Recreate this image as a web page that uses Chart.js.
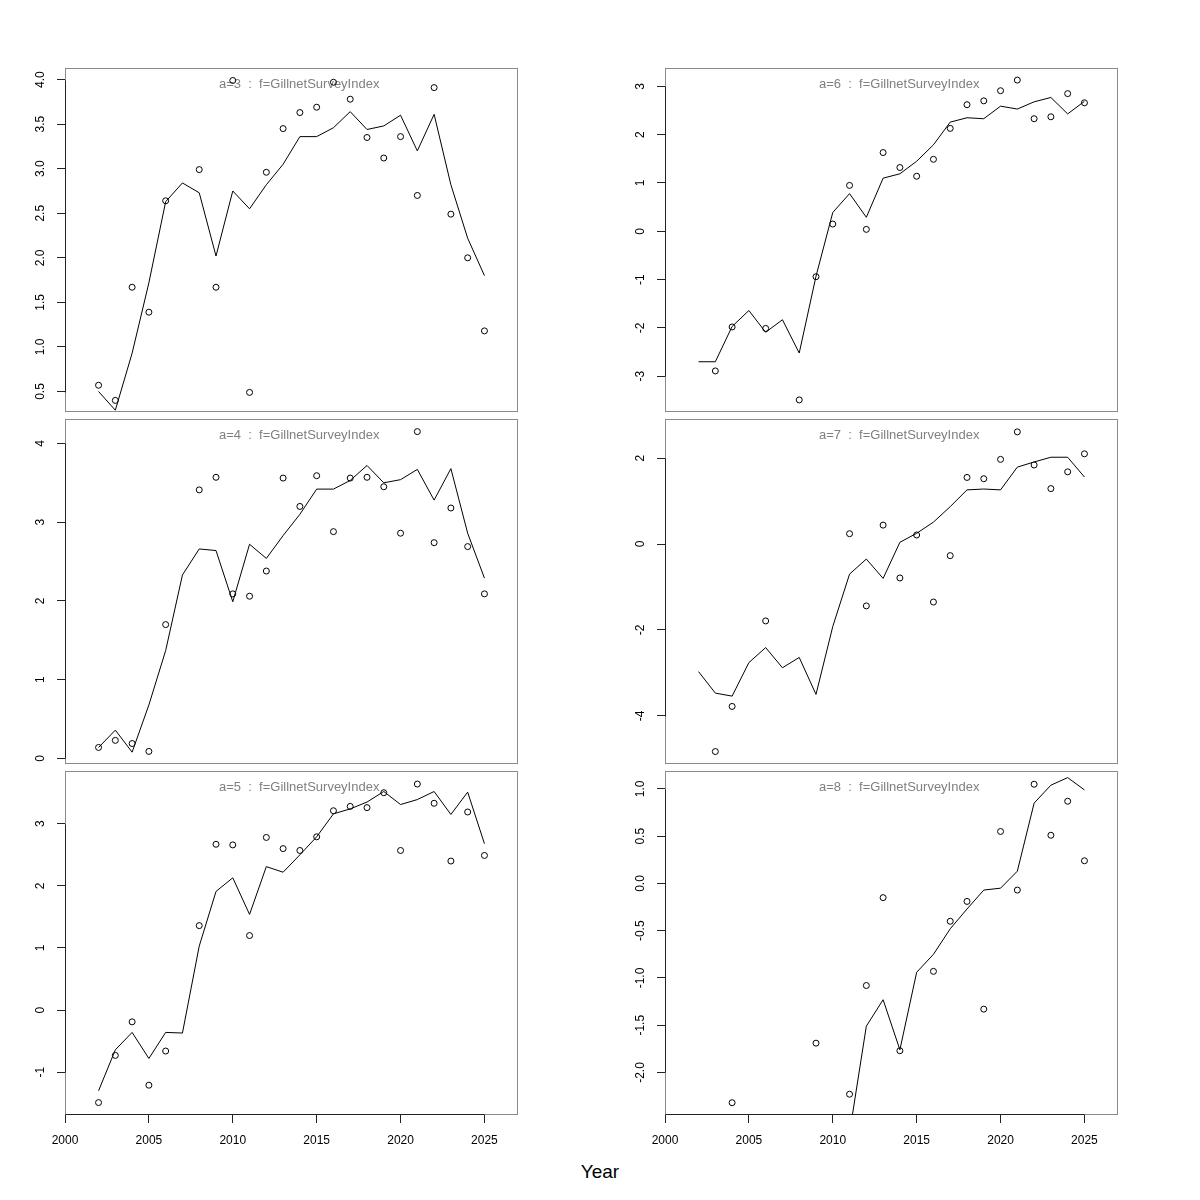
<!DOCTYPE html>
<html>
<head>
<meta charset="utf-8">
<script src="https://cdn.jsdelivr.net/npm/chart.js@4"></script>
<style>
  body { margin: 0; background: #fff; width: 1200px; height: 1200px; position: relative; overflow: hidden; font-family: "Liberation Sans", Arial, sans-serif; }
  canvas { position: absolute; }
  #xlab { position: absolute; left: 0; width: 1200px; top: 1161px; text-align: center; font-size: 19px; color: #000; }
</style>
</head>
<body>
<div id="xlab">Year</div>
<script>
const years = [2002, 2003, 2004, 2005, 2006, 2007, 2008, 2009, 2010, 2011, 2012, 2013,
               2014, 2015, 2016, 2017, 2018, 2019, 2020, 2021, 2022, 2023, 2024, 2025];
const yearTicks = [2000, 2005, 2010, 2015, 2020, 2025];

// observed index (circles) and fitted (line), by age
const obsA3 = [0.57, 0.40, 1.67, 1.39, 2.64, null, 2.99, 1.67, 3.99, 0.49, 2.96, 3.45, 3.63, 3.69, 3.97, 3.78, 3.35, 3.12, 3.36, 2.70, 3.91, 2.49, 2.00, 1.18];
const fitA3 = [0.50, 0.29, 0.93, 1.72, 2.63, 2.84, 2.73, 2.02, 2.75, 2.55, 2.82, 3.05, 3.36, 3.36, 3.46, 3.64, 3.44, 3.48, 3.60, 3.20, 3.61, 2.82, 2.22, 1.80];
const ticksA3 = [0.5, 1.0, 1.5, 2.0, 2.5, 3.0, 3.5, 4.0];

const obsA6 = [null, -2.89, -1.98, null, -2.01, null, -3.49, -0.94, 0.15, 0.95, 0.04, 1.63, 1.32, 1.14, 1.49, 2.13, 2.62, 2.70, 2.91, 3.13, 2.33, 2.37, 2.85, 2.66];
const fitA6 = [-2.70, -2.70, -1.97, -1.64, -2.09, -1.83, -2.52, -0.93, 0.39, 0.78, 0.29, 1.10, 1.19, 1.45, 1.79, 2.26, 2.35, 2.33, 2.59, 2.53, 2.68, 2.77, 2.43, 2.69];
const ticksA6 = [-3, -2, -1, 0, 1, 2, 3];

const obsA4 = [0.14, 0.23, 0.19, 0.09, 1.70, null, 3.41, 3.57, 2.09, 2.06, 2.38, 3.56, 3.20, 3.59, 2.88, 3.56, 3.57, 3.45, 2.86, 4.15, 2.74, 3.18, 2.69, 2.09];
const fitA4 = [0.14, 0.36, 0.08, 0.68, 1.37, 2.33, 2.66, 2.64, 1.99, 2.72, 2.54, 2.83, 3.10, 3.42, 3.42, 3.53, 3.72, 3.50, 3.54, 3.67, 3.28, 3.68, 2.86, 2.29];
const ticksA4 = [0, 1, 2, 3, 4];

const obsA7 = [null, -4.83, -3.78, null, -1.79, null, null, null, null, 0.24, -1.44, 0.44, -0.79, 0.21, -1.35, -0.27, 1.55, 1.52, 1.97, 2.61, 1.84, 1.29, 1.68, 2.10];
const fitA7 = [-2.97, -3.47, -3.54, -2.76, -2.41, -2.88, -2.64, -3.50, -1.92, -0.70, -0.35, -0.80, 0.04, 0.25, 0.51, 0.87, 1.26, 1.28, 1.26, 1.79, 1.91, 2.02, 2.02, 1.56];
const ticksA7 = [-4, -2, 0, 2];

const obsA5 = [-1.49, -0.73, -0.19, -1.21, -0.66, null, 1.36, 2.67, 2.66, 1.20, 2.78, 2.60, 2.57, 2.79, 3.21, 3.28, 3.26, 3.50, 2.57, 3.64, 3.33, 2.40, 3.19, 2.49];
const fitA5 = [-1.30, -0.64, -0.36, -0.78, -0.36, -0.37, 1.03, 1.91, 2.13, 1.54, 2.31, 2.22, 2.50, 2.79, 3.16, 3.24, 3.35, 3.52, 3.31, 3.39, 3.52, 3.15, 3.51, 2.68];
const ticksA5 = [-1, 0, 1, 2, 3];

const obsA8 = [null, null, -2.32, null, null, null, null, -1.69, null, -2.23, -1.08, -0.15, -1.77, null, -0.93, -0.40, -0.19, -1.33, 0.55, -0.07, 1.05, 0.51, 0.87, 0.24];
const fitA8 = [null, null, null, null, null, null, null, null, null, -2.64, -1.51, -1.23, -1.76, -0.94, -0.75, -0.48, -0.27, -0.07, -0.05, 0.13, 0.85, 1.04, 1.12, 0.99];
const ticksA8 = [-2.0, -1.5, -1.0, -0.5, 0.0, 0.5, 1.0];

const FONT = '"Liberation Sans", Arial, sans-serif';
const TICK_SIZE = 12;
const PAD = 30; // canvas margin around the box

// box edges of the three rows
const rowTop = [68, 419, 771];
const rowBottom = [412, 764, 1115];

const panels = [
  { title: 'a=3', obs: obsA3, fit: fitA3, ticks: ticksA3, dec: 1, min: 0.27, max: 4.13, col: 0, row: 0 },
  { title: 'a=6', obs: obsA6, fit: fitA6, ticks: ticksA6, dec: 0, min: -3.74, max: 3.38, col: 1, row: 0 },
  { title: 'a=4', obs: obsA4, fit: fitA4, ticks: ticksA4, dec: 0, min: -0.07, max: 4.31, col: 0, row: 1 },
  { title: 'a=7', obs: obsA7, fit: fitA7, ticks: ticksA7, dec: 0, min: -5.12, max: 2.91, col: 1, row: 1 },
  { title: 'a=5', obs: obsA5, fit: fitA5, ticks: ticksA5, dec: 0, min: -1.69, max: 3.85, col: 0, row: 2 },
  { title: 'a=8', obs: obsA8, fit: fitA8, ticks: ticksA8, dec: 1, min: -2.45, max: 1.19, col: 1, row: 2 }
];

const measure = document.createElement('canvas').getContext('2d');
measure.font = TICK_SIZE + 'px ' + FONT;

function toPoints(vals) {
  const out = [];
  vals.forEach((v, i) => { if (v !== null) out.push({ x: years[i], y: v }); });
  return out;
}

// grey box, dark axis lines between first and last tick, grey panel title
const framePlugin = {
  id: 'frame',
  beforeDatasetsDraw(chart, args, opts) {
    const { ctx, chartArea: a, scales: { x, y } } = chart;
    ctx.save();
    ctx.lineWidth = 1;
    ctx.strokeStyle = '#8a8a8a';
    ctx.strokeRect(a.left + 0.5, a.top + 0.5, a.right - a.left - 1, a.bottom - a.top - 1);
    ctx.strokeStyle = '#222';
    const t = opts.ticks;
    ctx.beginPath();
    ctx.moveTo(a.left + 0.5, Math.round(y.getPixelForValue(t[0])) + 0.5);
    ctx.lineTo(a.left + 0.5, Math.round(y.getPixelForValue(t[t.length - 1])) + 0.5);
    if (opts.showX) {
      ctx.moveTo(Math.round(x.getPixelForValue(yearTicks[0])) + 0.5, a.bottom - 0.5);
      ctx.lineTo(Math.round(x.getPixelForValue(yearTicks[yearTicks.length - 1])) + 0.5, a.bottom - 0.5);
    }
    ctx.stroke();
    ctx.fillStyle = '#808080';
    ctx.font = '13px ' + FONT;
    ctx.textAlign = 'left';
    ctx.textBaseline = 'middle';
    ctx.fillText(opts.title + '  :  f=GillnetSurveyIndex', a.left + 154, a.top + 16);
    ctx.restore();
  }
};

panels.forEach(p => {
  const showX = p.row === 2;
  const top = rowTop[p.row] - PAD;
  const height = rowBottom[p.row] - rowTop[p.row] + PAD + (showX ? 45 : PAD);
  const cv = document.createElement('canvas');
  cv.width = 600;
  cv.height = height;
  cv.style.left = (p.col * 600) + 'px';
  cv.style.top = top + 'px';
  document.body.appendChild(cv);

  const fmt = v => Number(v).toFixed(p.dec);
  const widest = Math.max(...p.ticks.map(v => measure.measureText(fmt(v)).width));

  new Chart(cv, {
    type: 'scatter',
    data: {
      datasets: [{
        data: toPoints(p.obs),
        showLine: false,
        pointStyle: 'circle',
        pointRadius: 3,
        pointBorderWidth: 1,
        pointBorderColor: '#000',
        pointBackgroundColor: 'rgba(0,0,0,0)'
      }, {
        data: toPoints(p.fit),
        showLine: true,
        borderColor: '#000',
        borderWidth: 1,
        pointRadius: 0,
        tension: 0
      }]
    },
    options: {
      responsive: false,
      animation: false,
      layout: { padding: { left: 0, right: 82, top: PAD, bottom: showX ? 0 : PAD } },
      scales: {
        x: {
          type: 'linear',
          min: 2000,
          max: 2027,
          display: showX,
          afterBuildTicks: s => { s.ticks = yearTicks.map(v => ({ value: v })); },
          afterFit: s => { if (showX) s.height = 45; },
          border: { display: false },
          grid: { drawOnChartArea: false, drawTicks: true, tickLength: 8, tickColor: '#222' },
          ticks: {
            padding: 10,
            maxRotation: 0,
            autoSkip: false,
            color: '#000',
            font: { family: FONT, size: TICK_SIZE },
            callback: v => String(v)
          }
        },
        y: {
          type: 'linear',
          min: p.min,
          max: p.max,
          afterBuildTicks: s => { s.ticks = p.ticks.map(v => ({ value: v })); },
          afterFit: s => { s.width = 65; },
          border: { display: false },
          grid: { drawOnChartArea: false, drawTicks: true, tickLength: 8, tickColor: '#222' },
          ticks: {
            minRotation: 90,
            maxRotation: 90,
            crossAlign: 'center',
            padding: 24 - 8 - widest / 2,
            autoSkip: false,
            color: '#000',
            font: { family: FONT, size: TICK_SIZE },
            callback: v => fmt(v)
          }
        }
      },
      plugins: {
        legend: { display: false },
        tooltip: { enabled: false },
        frame: { title: p.title, ticks: p.ticks, showX: showX }
      }
    },
    plugins: [framePlugin]
  });
});
</script>
</body>
</html>
